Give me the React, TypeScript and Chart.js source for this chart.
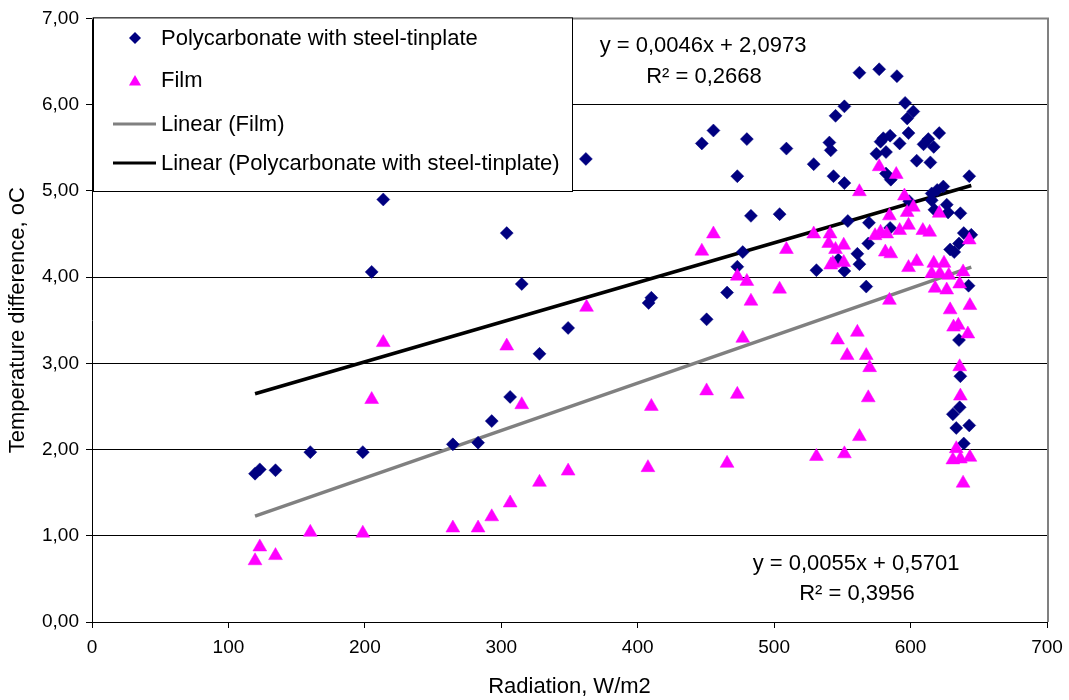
import { useEffect, useRef } from 'react';
import { Chart, registerables } from 'chart.js';

Chart.register(...registerables);

// Radiation (W/m2) and temperature difference (oC) – polycarbonate with steel-tinplate
const polyRadiation = [
  119.5, 123, 134.5, 160, 198.5, 205, 213.5, 264.5, 283, 293, 304, 306.5, 315, 328, 349, 362,
  408, 410, 447, 450.5, 455.5, 465.5, 473, 473, 477, 480, 483, 504, 509, 529, 531, 540.5,
  541.5, 543.5, 545, 547, 551.5, 551.5, 551.5, 554, 561, 562.5, 562.5, 567.5, 569, 569.5,
  575, 577, 578, 580, 582, 582, 585, 585.5, 585, 590, 592, 596, 597.5, 598.5, 599, 602,
  604.5, 609.5, 613, 614.5, 615.5, 615.5, 617, 617.5, 619.5, 621, 624, 626.5, 627.5, 629,
  632, 635.5, 636.5, 639, 644.5, 643, 642.5, 635.5, 636.5, 636, 631, 633.5, 643, 639,
];
const polyTempDiff = [
  1.72, 1.77, 1.76, 1.97, 1.97, 4.06, 4.9, 2.06, 2.08, 2.33, 4.51, 2.61, 3.92, 3.11, 3.41, 5.37,
  3.7, 3.76, 5.55, 3.51, 5.7, 3.82, 4.12, 5.17, 4.29, 5.6, 4.71, 4.73, 5.49, 5.31, 4.08, 5.56,
  5.47, 5.17, 5.87, 4.2, 5.98, 5.09, 4.07, 4.65, 4.27, 4.15, 6.37, 3.89, 4.39, 4.63,
  5.43, 6.41, 5.57, 5.61, 5.45, 5.2, 5.64, 5.13, 4.57, 6.33, 5.55, 6.02, 5.84, 5.67, 4.88, 5.92,
  5.35, 5.54, 5.6, 5.33, 4.97, 4.89, 5.51, 4.78, 5.01, 5.67, 5.05, 4.84, 4.75, 4.32,
  4.29, 4.39, 4.74, 4.51, 4.49, 5.17, 3.9, 3.27, 2.85, 2.49, 2.41, 2.25, 2.28, 2.07,
];

// Radiation (W/m2) and temperature difference (oC) – film
const filmRadiation = [
  119.5, 123, 134.5, 160, 198.5, 205, 213.5, 264.5, 283, 293, 304, 306.5, 315, 328, 349, 362.5,
  407.5, 410, 447, 450.5, 455.5, 465.5, 473, 473, 477, 480, 483, 504, 509, 529, 531, 540,
  541, 541.5, 543, 545, 546.5, 551, 551, 551.5, 553.5, 561, 562.5, 562.5, 567.5, 569, 570,
  574, 577, 578, 581.5, 582.5, 584.5, 584.5, 585.5, 589.5, 592, 595.5, 597.5, 598.5, 598.5,
  602, 604.5, 609, 614, 615.5, 617, 618, 621, 621.5, 624.5, 626.5, 628, 629, 631.5, 635,
  636, 636, 636.5, 633.5, 631, 636.5, 638.5, 638.5, 643, 643.5, 642, 643.5,
];
const filmTempDiff = [
  0.71, 0.87, 0.77, 1.04, 1.03, 2.58, 3.24, 1.09, 1.09, 1.22, 3.2, 1.38, 2.52, 1.62, 1.75, 3.65,
  1.79, 2.5, 4.3, 2.68, 4.5, 1.84, 4.01, 2.64, 3.29, 3.95, 3.72, 3.86, 4.32, 4.5, 1.92, 4.39,
  4.5, 4.14, 4.16, 4.32, 3.27, 4.37, 4.17, 1.95, 3.09, 3.36, 2.15, 4.99, 3.09, 2.6, 2.95,
  4.48, 5.28, 4.52, 4.29, 4.5, 4.71, 3.73, 4.27, 5.19, 4.54, 4.94, 4.75, 4.6, 4.11,
  4.81, 4.18, 4.54, 4.52, 4.04, 4.16, 3.87, 4.74, 4.04, 4.16, 3.85, 4.02, 3.62, 3.42, 3.44,
  3.92, 2.96, 2.62, 2.01, 1.88, 1.89, 1.61, 4.06, 4.43, 3.67, 3.34, 1.91,
];

// Linear trend coefficients as printed on the chart
const polyTrend = [0.0046, 2.0973];
const filmTrend = [0.0055, 0.5701];
const trendRange = [119.5, 644.5];

const seriesNames = [
  'Polycarbonate with steel-tinplate',
  'Film',
  'Linear (Film)',
  'Linear (Polycarbonate with steel-tinplate)',
];
const equationLabels = ['y = 0,0046x + 2,0973', 'R² = 0,2668', 'y = 0,0055x + 0,5701', 'R² = 0,3956'];
const xTickLabels = ['0', '100', '200', '300', '400', '500', '600', '700'];
const yTickLabels = ['0,00', '1,00', '2,00', '3,00', '4,00', '5,00', '6,00', '7,00'];

const FONT = "'Liberation Sans', Arial, Helvetica, sans-serif";
const NAVY = '#000080';
const MAGENTA = '#FF00FF';
const TREND_GRAY = '#808080';

const toPoints = (xs: number[], ys: number[]) => xs.map((x, i) => ({ x, y: ys[i] }));
const trendPoints = (coef: number[]) => trendRange.map((x) => ({ x, y: coef[0] * x + coef[1] }));

function drawDiamond(ctx: CanvasRenderingContext2D, x: number, y: number, r: number) {
  ctx.beginPath();
  ctx.moveTo(x, y - r);
  ctx.lineTo(x + r, y);
  ctx.lineTo(x, y + r);
  ctx.lineTo(x - r, y);
  ctx.closePath();
  ctx.fill();
}

function drawTriangle(ctx: CanvasRenderingContext2D, x: number, y: number, r: number) {
  ctx.beginPath();
  ctx.moveTo(x, y - r);
  ctx.lineTo(x + r * 0.866, y + r * 0.5);
  ctx.lineTo(x - r * 0.866, y + r * 0.5);
  ctx.closePath();
  ctx.fill();
}

const overlayPlugin = {
  id: 'overlay',
  afterDraw(chart: any) {
    const { ctx, chartArea: a } = chart;
    const yScale = chart.scales.y;
    ctx.save();

    // plot-area frame, top and right sides
    ctx.strokeStyle = '#808080';
    ctx.lineWidth = 2;
    ctx.beginPath();
    ctx.moveTo(a.left, a.top);
    ctx.lineTo(a.right + 1, a.top);
    ctx.lineTo(a.right + 1, a.bottom);
    ctx.stroke();

    // legend box
    const boxLeft = a.left + 1.5;
    const boxTop = a.top - 0.5;
    const boxRight = 572.5;
    const boxBottom = Math.round(yScale.getPixelForValue(5)) + 0.5;
    ctx.fillStyle = '#fff';
    ctx.fillRect(boxLeft, boxTop, boxRight - boxLeft, boxBottom - boxTop);
    ctx.strokeStyle = '#000';
    ctx.lineWidth = 1;
    ctx.strokeRect(boxLeft, boxTop, boxRight - boxLeft, boxBottom - boxTop);

    const rows = [38, 80, 124, 163];
    const textX = 161;
    ctx.fillStyle = NAVY;
    drawDiamond(ctx, 135, rows[0], 6);
    ctx.fillStyle = MAGENTA;
    drawTriangle(ctx, 135, rows[1] + 2, 7);
    ctx.lineWidth = 3;
    ctx.strokeStyle = TREND_GRAY;
    ctx.beginPath();
    ctx.moveTo(113, rows[2]);
    ctx.lineTo(156, rows[2]);
    ctx.stroke();
    ctx.strokeStyle = '#000';
    ctx.beginPath();
    ctx.moveTo(113, rows[3]);
    ctx.lineTo(156, rows[3]);
    ctx.stroke();

    ctx.fillStyle = '#000';
    ctx.font = `22px ${FONT}`;
    ctx.textAlign = 'left';
    ctx.textBaseline = 'middle';
    seriesNames.forEach((name, i) => ctx.fillText(name, textX, rows[i] + 1));

    // trend equations
    ctx.textAlign = 'center';
    ctx.fillText(equationLabels[0], 703, 46);
    ctx.fillText(equationLabels[1], 704, 77);
    ctx.fillText(equationLabels[2], 856, 564);
    ctx.fillText(equationLabels[3], 857, 594);

    ctx.restore();
  },
};

export default function App() {
  const canvasRef = useRef<HTMLCanvasElement>(null);

  useEffect(() => {
    const canvas = canvasRef.current;
    if (!canvas) return;
    const tickFont = { family: FONT, size: 19 };
    const titleFont = { family: FONT, size: 22 };

    const chart = new Chart(canvas, {
      type: 'scatter',
      data: {
        datasets: [
          {
            label: seriesNames[2],
            data: trendPoints(filmTrend),
            showLine: true,
            borderColor: TREND_GRAY,
            borderWidth: 3.5,
            pointRadius: 0,
            order: 3,
          },
          {
            label: seriesNames[3],
            data: trendPoints(polyTrend),
            showLine: true,
            borderColor: '#000',
            borderWidth: 3.5,
            pointRadius: 0,
            order: 3,
          },
          {
            label: seriesNames[0],
            data: toPoints(polyRadiation, polyTempDiff),
            pointStyle: 'rectRot',
            pointRadius: 6.5,
            pointBackgroundColor: NAVY,
            pointBorderColor: NAVY,
            pointBorderWidth: 0.5,
            order: 2,
          },
          {
            label: seriesNames[1],
            data: toPoints(filmRadiation, filmTempDiff),
            pointStyle: 'triangle',
            pointRadius: 8,
            pointBackgroundColor: MAGENTA,
            pointBorderColor: MAGENTA,
            pointBorderWidth: 0.5,
            order: 1,
          },
        ],
      },
      options: {
        animation: false,
        responsive: false,
        devicePixelRatio: 1,
        layout: { padding: { top: 18, right: 22, left: 0, bottom: 0 } },
        plugins: {
          legend: { display: false },
          tooltip: { enabled: false },
        },
        scales: {
          x: {
            type: 'linear',
            min: 0,
            max: 700,
            afterFit(scale: any) {
              scale.height = 78;
              scale.paddingLeft = 0;
              scale.paddingRight = 0;
            },
            ticks: {
              stepSize: 100,
              color: '#000',
              font: tickFont,
              padding: 8,
              maxRotation: 0,
              callback: (_v: any, i: number) => xTickLabels[i],
            },
            grid: { drawOnChartArea: false, drawTicks: true, tickLength: 6, color: '#000' },
            border: { display: true, color: '#000', width: 1 },
            title: {
              display: true,
              text: 'Radiation, W/m2',
              color: '#000',
              font: titleFont,
              padding: { top: 0, bottom: 0 },
            },
          },
          y: {
            type: 'linear',
            min: 0,
            max: 7,
            afterFit(scale: any) {
              scale.width = 92;
            },
            ticks: {
              stepSize: 1,
              color: '#000',
              font: tickFont,
              padding: 7,
              callback: (_v: any, i: number) => yTickLabels[i],
            },
            grid: {
              color: (c: any) => (c.tick && c.tick.value === 7 ? 'rgba(0,0,0,0)' : '#000'),
              tickColor: '#000',
              tickLength: 6,
              lineWidth: 1,
            },
            border: { display: true, color: '#000', width: 1 },
            title: {
              display: true,
              text: 'Temperature difference, oC',
              color: '#000',
              font: titleFont,
              padding: { top: 5, bottom: 0 },
            },
          },
        },
      },
      plugins: [overlayPlugin],
    } as any);

    return () => chart.destroy();
  }, []);

  return (
    <div style={{ position: 'fixed', left: 0, top: 0, width: 1069, height: 700, background: '#fff' }}>
      <canvas ref={canvasRef} width={1069} height={700} style={{ display: 'block' }} />
    </div>
  );
}
